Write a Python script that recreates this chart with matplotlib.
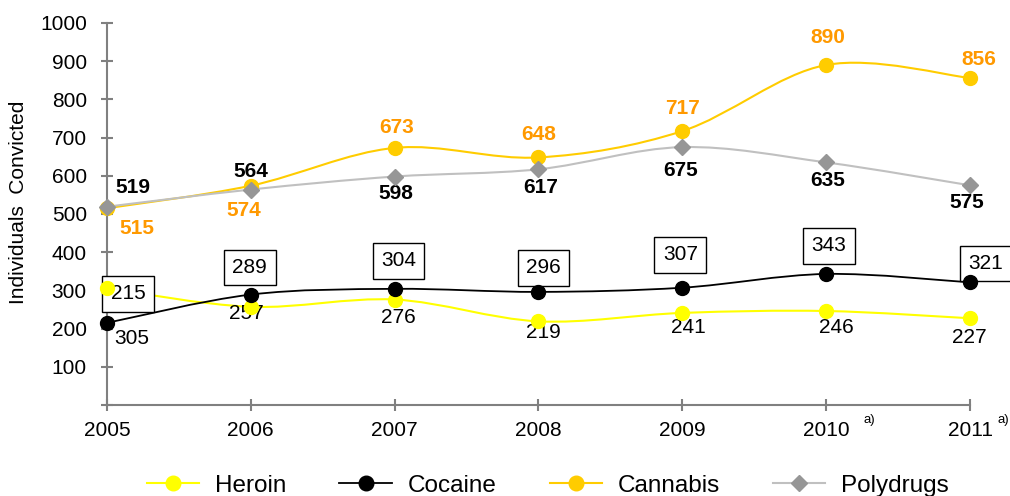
import numpy as np
import matplotlib.pyplot as plt
from matplotlib.path import Path
from matplotlib.patches import PathPatch
from matplotlib.lines import Line2D

plt.rcParams['font.family'] = ['Liberation Sans', 'DejaVu Sans']

# ===== DATA =====
years = [2005, 2006, 2007, 2008, 2009, 2010, 2011]
heroin = [305, 257, 276, 219, 241, 246, 227]
cocaine = [215, 289, 304, 296, 307, 343, 321]
cannabis = [515, 574, 673, 648, 717, 890, 856]
polydrugs = [519, 564, 598, 617, 675, 635, 575]
footnote_years = [2010, 2011]

# label offsets (px) relative to each point
heroin_off = [(25, -50), (-4, -7), (4, -18), (5, -11), (6, -15), (10, -16), (-1, -19)]
cocaine_off = [(21, 29), (-1, 27), (4, 28), (5, 24), (-2, 33), (3, 28), (16, 19)]
cannabis_off = [(30, -20), (-7, -25), (2, 20), (0, 23), (0, 23), (2, 27), (9, 18)]
poly_off = [(26, 19), (0, 18), (1, -17), (2, -18), (-2, -23), (2, -18), (-3, -17)]
footnote_off = [(43, -15), (33, -15)]

PX = 0.72  # px -> points at dpi 100


def smooth_path(x, y):
    """Bezier path through points, Catmull-Rom style (like Excel smoothing)"""
    p = np.column_stack([x, y]).astype(float)
    n = len(p)
    verts = [p[0]]
    codes = [Path.MOVETO]
    for i in range(n - 1):
        p_prev = p[i - 1] if i > 0 else p[i]
        p_next2 = p[i + 2] if i + 2 < n else p[i + 1]
        c1 = p[i] + (p[i + 1] - p_prev) / 6.0
        c2 = p[i + 1] - (p_next2 - p[i]) / 6.0
        verts += [c1, c2, p[i + 1]]
        codes += [Path.CURVE4] * 3
    return Path(verts, codes)


fig = plt.figure(figsize=(10.1, 4.96), dpi=100)
ax = fig.add_axes([0.1059, 0.1835, 0.8545, 0.7702])

series = [
    ("Heroin", heroin, '#FFFF00', '#FFFF00', 'o', 10, 1.5),
    ("Cocaine", cocaine, 'black', 'black', 'o', 10, 1.3),
    ("Cannabis", cannabis, '#FFCC00', '#FFCC00', 'o', 10, 1.5),
    ("Polydrugs", polydrugs, '#C0C0C0', '#969696', 'D', 8, 1.5),
]

handles = []
for name, vals, lc, mc, mk, ms, lw in series:
    ax.add_patch(PathPatch(smooth_path(years, vals), fc='none', ec=lc, lw=lw,
                           zorder=2, clip_on=False))
    ax.plot(years, vals, linestyle='none', marker=mk, ms=ms, color=mc,
            mec=mc, zorder=5, clip_on=False)
    handles.append(Line2D([], [], color=lc, lw=lw, marker=mk, ms=ms + 0.5,
                          mfc=mc, mec=mc, label=name))

# value labels
for x, v, (dx, dy) in zip(years, heroin, heroin_off):
    ax.annotate(str(v), (x, v), xytext=(dx * PX, dy * PX), textcoords='offset points',
                ha='center', va='center', fontsize=15, color='black', zorder=4)
for x, v, (dx, dy) in zip(years, cocaine, cocaine_off):
    ax.annotate(str(v), (x, v), xytext=(dx * PX, dy * PX), textcoords='offset points',
                ha='center', va='center', fontsize=15, color='black', zorder=4,
                bbox=dict(boxstyle='square,pad=0.4', fc='white', ec='black', lw=1.0),
                annotation_clip=False)
for x, v, (dx, dy) in zip(years, cannabis, cannabis_off):
    ax.annotate(str(v), (x, v), xytext=(dx * PX, dy * PX), textcoords='offset points',
                ha='center', va='center', fontsize=15, fontweight='bold',
                color='#FF9900', zorder=4)
for x, v, (dx, dy) in zip(years, polydrugs, poly_off):
    ax.annotate(str(v), (x, v), xytext=(dx * PX, dy * PX), textcoords='offset points',
                ha='center', va='center', fontsize=15, fontweight='bold',
                color='black', zorder=4)

# axes styling
ax.set_xlim(2005, 2011)
ax.set_ylim(0, 1000)
ax.set_xticks(years)
ax.set_xticklabels([str(y) for y in years])
ax.set_yticks(range(0, 1001, 100))
ax.set_yticklabels([''] + [str(v) for v in range(100, 1001, 100)])
for s in ['top', 'right']:
    ax.spines[s].set_visible(False)
for s in ['left', 'bottom']:
    ax.spines[s].set_color('#808080')
    ax.spines[s].set_linewidth(1.5)
ax.tick_params(axis='both', direction='inout', length=9, width=1.5, color='#808080',
               labelsize=15, labelcolor='black')
ax.tick_params(axis='y', pad=10)
ax.tick_params(axis='x', pad=7)
ax.set_ylabel('Individuals  Convicted', fontsize=15)
ax.yaxis.set_label_coords(-0.091, 0.53)
ax.set_facecolor('none')

# footnote marks
for x, (dx, dy) in zip(footnote_years, footnote_off):
    ax.annotate('a)', (x, 0), xytext=(dx * PX, dy * PX), textcoords='offset points',
                ha='center', va='center', fontsize=9.5, annotation_clip=False)

fig.legend(handles=handles, loc='center', bbox_to_anchor=(0.5426, 0.021), ncol=4,
           frameon=False, fontsize=17.5, handlelength=2.15, handletextpad=0.66,
           columnspacing=2.18)

plt.savefig('out.png', dpi=100)
